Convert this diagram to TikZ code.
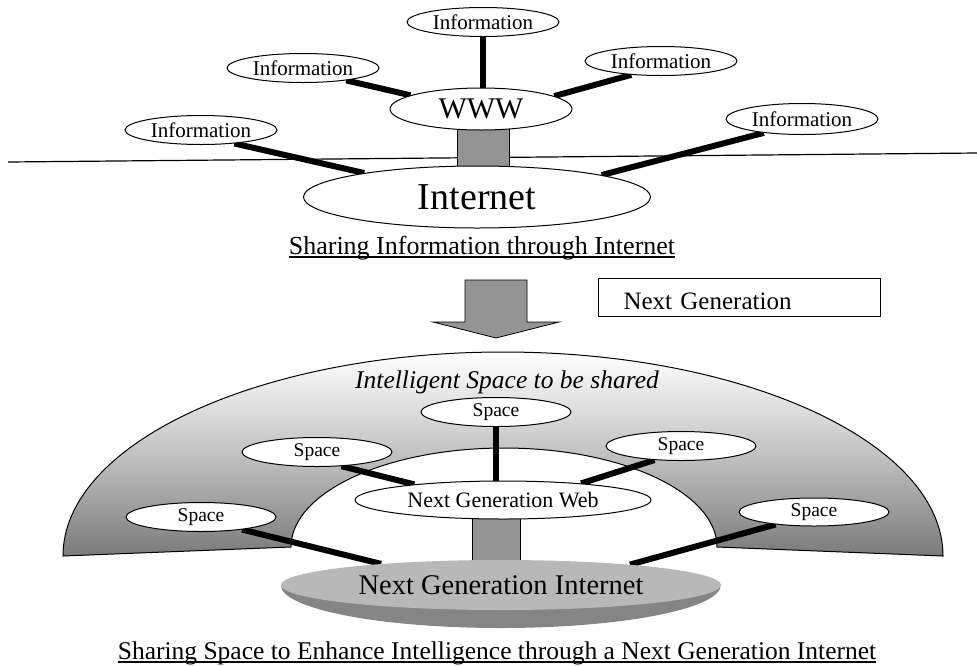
\documentclass[tikz,border=0pt]{standalone}
\usepackage{fontspec}
\setmainfont{Liberation Serif}
\usetikzlibrary{shapes.geometric}
\usetikzlibrary{backgrounds}
\usetikzlibrary{calc}

\begin{document}
\begin{tikzpicture}[x=1pt,y=-1pt,
    bubble/.style={draw,ellipse,fill=white,line width=1pt,inner sep=0pt,
      minimum width=152pt,minimum height=29pt},
    info/.style={bubble,font=\fontsize{21}{24}\selectfont},
    spc/.style={bubble,minimum width=150pt,font=\fontsize{19.5}{22}\selectfont},
    link/.style={line width=6pt},
    plug/.style={draw,line width=0.8pt,fill=black!42},
    heading/.style={inner sep=0pt,anchor=base,font=\fontsize{26}{30}\selectfont},
    rule/.style={line width=1.1pt}]
  \useasboundingbox (0,0) rectangle (977,665);

  % sharing information
  \node[bubble,minimum width=347pt,minimum height=62pt,font=\fontsize{38}{42}\selectfont] (inet) at (477,197) {Internet};
  \node[bubble,minimum width=182pt,minimum height=42pt,font=\fontsize{30}{34}\selectfont] (www) at (481,109) {WWW};
  \node[info] (infT) at (483,22) {Information};
  \node[info] (infUL) at (303,68) {Information};
  \node[info] (infL) at (201,130) {Information};
  \node[info] (infUR) at (661,61) {Information};
  \node[info,minimum height=31pt] (infR) at (802,119) {Information};
  \node[heading] (share1) at (482,254) {Sharing Information through Internet};
  \draw[rule] ([yshift=-3pt]share1.base west) -- ([yshift=-3pt]share1.base east);

  \begin{scope}[on background layer]
    \draw[line width=1.2pt] (8,162) -- (977,153);
    \draw[link] (infT.south) -- (infT.south |- www.north);
    \draw[link] (infUL.-16) -- (www.169);
    \draw[link] (infUR.205) -- (www.10);
    \draw[link] (infL.-22) -- (inet.168);
    \draw[link] (infR.200) -- (inet.10);
    \draw[plug] ($(www.south)+(-24,-4)$) rectangle ($(www.south |- inet.north)+(28,5)$);
  \end{scope}

  % next generation
  \draw[plug] (465,280) -- (527,280) -- (527,322) -- (559,322) -- (496,338) -- (433,322) -- (465,322) -- cycle;
  \node[draw,line width=1pt,anchor=west,text width=232pt,inner xsep=25pt,inner ysep=6pt,
    text height=25pt,text depth=1pt,font=\fontsize{25}{28}\selectfont] (nextgen) at (598,297) {Next Generation};

  % sharing space
  \node[heading,font=\fontsize{25.5}{30}\selectfont\itshape] (intel) at (507,388) {Intelligent Space to be shared};
  \node[bubble,minimum width=296pt,minimum height=38pt,font=\fontsize{22}{26}\selectfont] (ngw) at (503,500) {Next Generation Web};
  \node[spc] (spT) at (496,412) {Space};
  \node[spc] (spUL) at (317,452) {Space};
  \node[spc] (spUR) at (681,446) {Space};
  \node[spc] (spLL) at (201,517) {Space};
  \node[spc,minimum height=28pt] (spLR) at (814,512) {Space};
  \node[ellipse,fill=black!28,inner sep=0pt,minimum width=440pt,minimum height=50pt,
    font=\fontsize{28.5}{32}\selectfont] (ngi) at (501,585) {Next Generation Internet};
  \node[heading,font=\fontsize{25.5}{30}\selectfont] (share2) at (497,659) {Sharing Space to Enhance Intelligence through a Next Generation Internet};
  \draw[rule] ([yshift=-3pt]share2.base west) -- ([yshift=-3pt]share2.base east);

  \begin{scope}[on background layer]
    \draw[line width=1pt,top color=white,bottom color=black!52,middle color=black!24]
      (63,556) arc[start angle=180,end angle=0,x radius=440pt,y radius=204pt]
      -- (717,547) arc[start angle=0,end angle=180,x radius=213pt,y radius=99pt] -- cycle;
    \fill[black!48] (ngi.west) arc[start angle=180,end angle=360,x radius=220pt,y radius=43pt] -- cycle;
    \draw[link] (spT) -- (spT |- ngw.north);
    \draw[link] (spUL.-30) -- (ngw.170);
    \draw[link] (spUR.208) -- (ngw.12);
    \draw[link] (spLL.-17) -- (ngi.170);
    \draw[link] (spLR.198) -- (ngi.9);
    \draw[plug] ($(ngw.south)+(-31,-4)$) rectangle ($(ngw.south |- ngi.north)+(17,6)$);
  \end{scope}
\end{tikzpicture}
\end{document}
